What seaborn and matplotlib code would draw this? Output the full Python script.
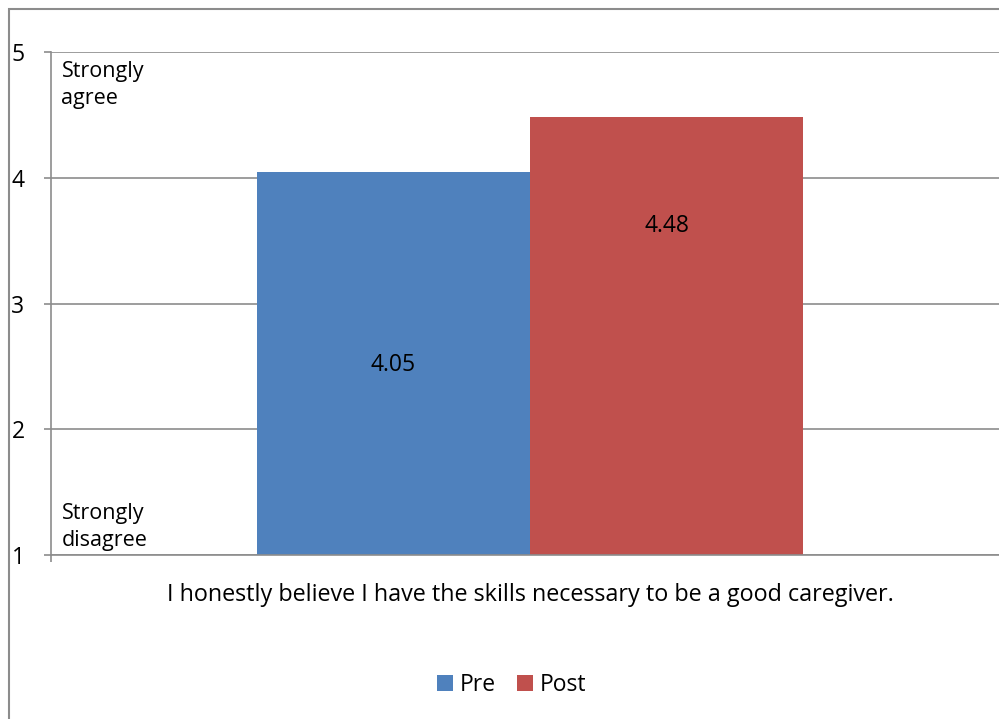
import matplotlib
matplotlib.use("Agg")
import matplotlib.pyplot as plt
import seaborn as sns
import pandas as pd
from matplotlib.patches import Rectangle

# Veriler
question = ["I honestly believe I have the skills necessary to be a good caregiver."]
groups = ["Pre", "Post"]
scores = [4.05, 4.48]
label_heights = [2.51, 3.62]  # Excel'deki etiket konumları
palette = {"Pre": "#4F81BD", "Post": "#C0504D"}

df = pd.DataFrame({"Question": question * 2, "Time": groups, "Score": scores})

sns.set_theme(style="white")
plt.rcParams["font.family"] = ["Open Sans", "DejaVu Sans"]
grid_color = "#8C8C8C"
fs = 16.5

fig = plt.figure(figsize=(9.99, 7.19), dpi=100)
ax = fig.add_axes([0.051, 0.228, 0.959, 0.6996])

sns.barplot(data=df, x="Question", y="Score", hue="Time", palette=palette,
            width=0.57, saturation=1, linewidth=0, ax=ax, legend=True)

ax.set_ylim(1, 5)
ax.set_xlim(-0.5, 0.5)
ax.set_yticks([1, 2, 3, 4, 5])
ax.yaxis.grid(True, color=grid_color, linewidth=1.2)
ax.set_axisbelow(True)
for s in ["top", "right"]:
    ax.spines[s].set_visible(False)
for s in ["left", "bottom"]:
    ax.spines[s].set_color(grid_color)
    ax.spines[s].set_linewidth(1.2)

ax.tick_params(axis="y", length=5, width=1.2, color=grid_color, labelsize=fs,
               pad=14, left=True, labelcolor="black")
ax.set_xticks([0])
ax.set_xticklabels(question, fontsize=16.8, color="black")
ax.tick_params(axis="x", length=0, pad=20)
ax.set_xticks([-0.5], minor=True)
ax.tick_params(axis="x", which="minor", length=5, width=1.2, color=grid_color, bottom=True)
ax.set_xlabel("")
ax.set_ylabel("")

# Değer etiketleri
offsets = [-0.57 / 4, 0.57 / 4]
for off, val, h in zip(offsets, scores, label_heights):
    ax.text(off, h, f"{val:.2f}", ha="center", va="center", fontsize=fs, color="black")

ax.text(-0.489, 4.735, "Strongly\nagree", ha="left", va="center", fontsize=15.5,
        linespacing=1.38, color="black")
ax.text(-0.489, 1.22, "Strongly\ndisagree", ha="left", va="center", fontsize=15.5,
        linespacing=1.38, color="black")

# Lejant
leg = ax.legend(loc="center", bbox_to_anchor=(0.512, 0.047), bbox_transform=fig.transFigure,
                ncol=2, frameon=False, fontsize=fs, handlelength=0.7, handleheight=0.7,
                handletextpad=0.3, columnspacing=0.9, title=None)
for t in leg.get_texts():
    t.set_color("black")

# Grafik çerçevesi
fig.patches.append(Rectangle((0.0095, -0.05), 1.2, 0.9868 + 0.05, transform=fig.transFigure,
                             fill=False, edgecolor=grid_color, linewidth=1.5))

fig.savefig("out.png", dpi=100)
